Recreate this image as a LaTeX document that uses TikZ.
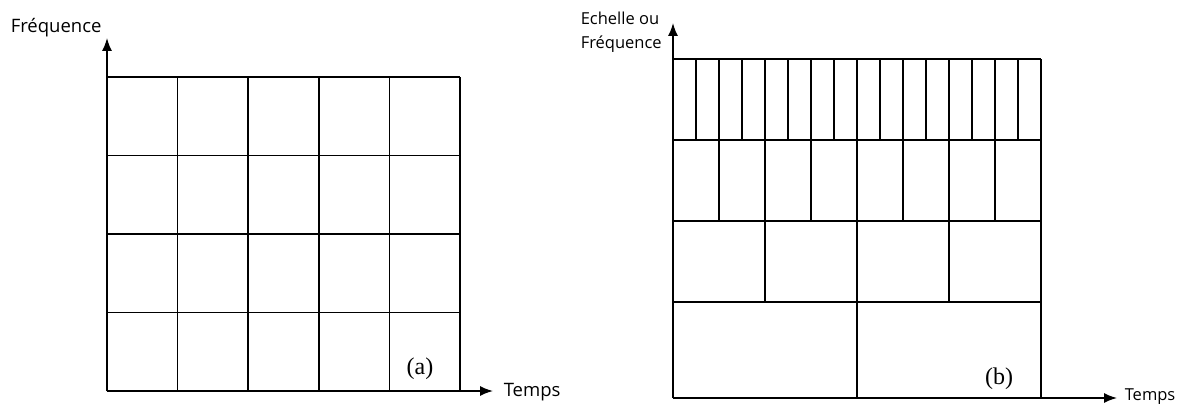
\documentclass[tikz,border=0pt]{standalone}
\usepackage{fontspec}
\setmainfont{Open Sans}
\newfontfamily\lettre{Liberation Serif}
\usetikzlibrary{arrows.meta}

\begin{document}
\begin{tikzpicture}[x=1pt, y=1pt, >={Latex[length=13pt,width=10pt]}, line width=1.5pt,
  axe/.style={inner sep=0pt, font=\fontsize{18.5}{22}\selectfont},
  lettrefig/.style={inner sep=0pt, font=\lettre\fontsize{24}{26}\selectfont}]
\useasboundingbox (0,0) rectangle (1179,405);

% (a) pavage uniforme
\coordinate (oa) at (107,14);
\coordinate (ha) at (107,367);
\coordinate (da) at (493,14);
\foreach \i in {0,...,5}
  \draw (107+70.6*\i,14) -- (107+70.6*\i,328);
\foreach \j in {0,...,4}
  \draw (107,14+78.5*\j) -- (460,14+78.5*\j);
\draw[->] (oa) -- (ha);
\draw[->] (oa) -- (da);
\node[axe, anchor=west] (freqa) at (10,377) {Fréquence};
\node[axe, anchor=west] (tempsa) at (503,13) {Temps};
\node[lettrefig] (a) at (420,36) {(a)};

% (b) pavage dyadique
\coordinate (ob) at (673,7);
\coordinate (hb) at (673,382);
\coordinate (db) at (1117,7);
\foreach \y/\n/\h in {7/2/96, 103/4/81, 184/8/81, 265/16/81} {
  \draw (673,\y+\h) -- (1041,\y+\h);
  \foreach \k in {1,...,\n}
    \draw (673+368*\k/\n,\y) -- ++(0,\h);
}
\draw[->] (ob) -- (hb);
\draw[->] (ob) -- (db);
\node[axe, anchor=north west, align=left, font=\fontsize{16.5}{24}\selectfont]
  (freqb) at (580,394) {Echelle ou\\Fréquence};
\node[axe, anchor=base west, font=\fontsize{16.5}{19}\selectfont] (tempsb) at (1124,5) {Temps};
\node[lettrefig] (b) at (999,26) {(b)};
\end{tikzpicture}
\end{document}
